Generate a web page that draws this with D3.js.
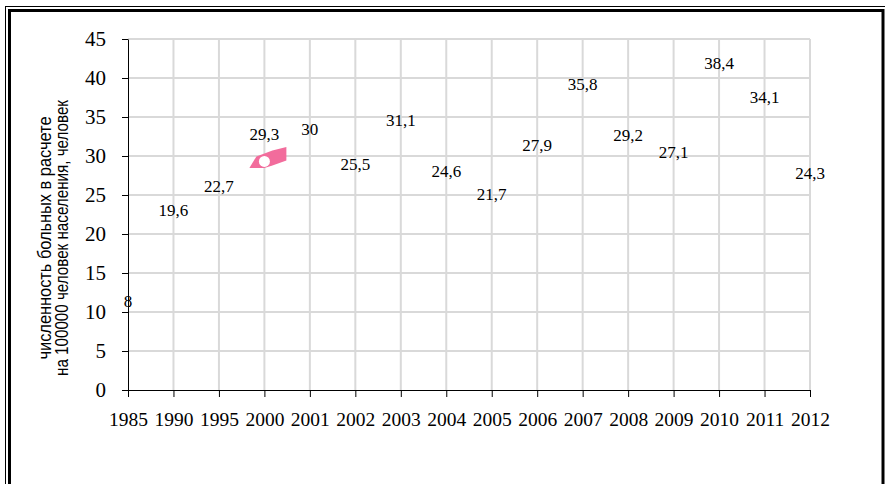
<!DOCTYPE html>
<html><head><meta charset="utf-8">
<script src="https://cdn.jsdelivr.net/npm/d3@7"></script>
<style>
html,body{margin:0;padding:0;background:#fff;}
svg{display:block;}
</style></head>
<body>
<svg id="c" width="885" height="484"></svg>
<script>
const categories = ["1985","1990","1995","2000","2001","2002","2003","2004","2005","2006","2007","2008","2009","2010","2011","2012"];
const values = [8,19.6,22.7,29.3,30,25.5,31.1,24.6,21.7,27.9,35.8,29.2,27.1,38.4,34.1,24.3];
const labels = ["8","19,6","22,7","29,3","30","25,5","31,1","24,6","21,7","27,9","35,8","29,2","27,1","38,4","34,1","24,3"];
const yTicks = [0,5,10,15,20,25,30,35,40,45];
const yTitle = ["численность больных в расчете","на 100000 человек населения, человек"];

const svg = d3.select("#c");
const serifFont = '"Liberation Serif","Times New Roman","DejaVu Serif",serif';

// frame
svg.append("rect").attr("x",5.5).attr("y",6.5).attr("width",900).attr("height",500)
  .attr("fill","none").attr("stroke","#000").attr("stroke-width",1);
svg.append("rect").attr("x",9.5).attr("y",10.5).attr("width",873.5).attr("height",500)
  .attr("fill","none").attr("stroke","#000").attr("stroke-width",3);

const x = d3.scalePoint().domain(categories).range([128,810]);
const y = d3.scaleLinear().domain([0,45]).range([390,39]);

// gridlines
svg.append("g").selectAll("line").data(yTicks.filter(d=>d>0)).join("line")
  .attr("x1",128).attr("x2",810).attr("y1",d=>y(d)).attr("y2",d=>y(d))
  .attr("stroke","#d9d9d9").attr("stroke-width",2);
svg.append("g").selectAll("line").data(categories.slice(1)).join("line")
  .attr("x1",d=>x(d)).attr("x2",d=>x(d)).attr("y1",y(45)).attr("y2",y(0))
  .attr("stroke","#d9d9d9").attr("stroke-width",2);

// axes
const ya = svg.append("g").attr("transform","translate(128,0)")
  .call(d3.axisLeft(y).tickValues(yTicks).tickSize(6).tickSizeOuter(0).tickPadding(16).tickFormat(d=>d));
ya.attr("font-family",null).attr("font-size",null);
ya.selectAll("text").style("font-family",serifFont).style("font-size","21px").attr("fill","#000");
ya.selectAll("line,path").attr("stroke","#000");

const xa = svg.append("g").attr("transform",`translate(0,${y(0)})`)
  .call(d3.axisBottom(x).tickSize(7).tickSizeOuter(0).tickPadding(15));
xa.attr("font-family",null).attr("font-size",null);
xa.selectAll("text").style("font-family",serifFont).style("font-size","19.5px").attr("fill","#000");
xa.selectAll("line,path").attr("stroke","#000");

// pink marker artifact near 2000
const px = x("2000"), py = y(values[3]);
const blob = [[-15,6.5],[-8,-5],[8,-11],[22,-14.5],[22,-1],[8,4],[0,6.5]];
svg.append("path")
  .attr("d", d3.line()(blob.map(p=>[px+p[0],py+p[1]])) + "Z")
  .attr("fill","#f26c9c");
svg.append("circle").attr("cx",px).attr("cy",py).attr("r",5.5).attr("fill","#fff");

// data labels
svg.append("g").selectAll("text").data(values).join("text")
  .attr("x",(d,i)=>x(categories[i]))
  .attr("y",d=>y(d)-21)
  .attr("text-anchor","middle")
  .style("font-family",serifFont).style("font-size","17px").attr("fill","#000")
  .text((d,i)=>labels[i]);

// y title
const t = svg.append("text")
  .attr("transform","translate(0,238) rotate(-90)")
  .attr("text-anchor","middle")
  .style("font-family",'"Liberation Sans",Arial,sans-serif').style("font-size","18px").attr("fill","#000");
t.append("tspan").attr("x",0).attr("y",51).attr("textLength",243).attr("lengthAdjust","spacingAndGlyphs").text(yTitle[0]);
t.append("tspan").attr("x",0).attr("y",68).attr("textLength",276).attr("lengthAdjust","spacingAndGlyphs").text(yTitle[1]);
</script>
</body></html>
